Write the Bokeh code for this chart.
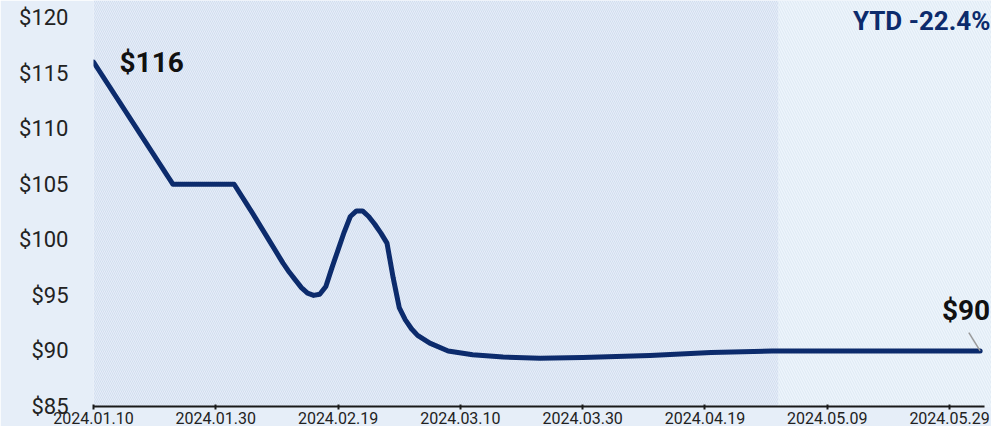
import pandas as pd
from bokeh.plotting import figure
from bokeh.models import (FixedTicker, DatetimeTickFormatter, PrintfTickFormatter,
                          Range1d, Label, BoxAnnotation, ColumnDataSource)
from bokeh.embed import file_html
from bokeh.resources import INLINE

# ---- data ----
dates = ["2024-01-10", "2024-01-23", "2024-02-02", "2024-02-05", "2024-02-08",
         "2024-02-10", "2024-02-11", "2024-02-12", "2024-02-13", "2024-02-14",
         "2024-02-15", "2024-02-16", "2024-02-17", "2024-02-18", "2024-02-19",
         "2024-02-20", "2024-02-21", "2024-02-22", "2024-02-23", "2024-02-24",
         "2024-02-25", "2024-02-26", "2024-02-27", "2024-02-28", "2024-02-29",
         "2024-03-01", "2024-03-02", "2024-03-03", "2024-03-05", "2024-03-08",
         "2024-03-12", "2024-03-17", "2024-03-23", "2024-03-30", "2024-04-10",
         "2024-04-20", "2024-04-30", "2024-05-10", "2024-05-20", "2024-06-03"]
prices = [116.0, 105.0, 105.0, 102.4, 99.7,
          97.9, 97.1, 96.4, 95.7, 95.2,
          95.0, 95.1, 95.8, 97.5, 99.1,
          100.7, 102.1, 102.6, 102.6, 102.1,
          101.4, 100.6, 99.7, 96.6, 93.9,
          92.8, 92.0, 91.4, 90.7, 90.0,
          89.65, 89.45, 89.35, 89.4, 89.6,
          89.85, 90.0, 90.0, 90.0, 90.0]
x_tick_dates = ["2024-01-10", "2024-01-30", "2024-02-19", "2024-03-10",
                "2024-03-30", "2024-04-19", "2024-05-09", "2024-05-29"]
y_ticks = [85, 90, 95, 100, 105, 110, 115, 120]

dt = pd.to_datetime(dates)
def ms(t):
    return pd.Timestamp(t).value / 1e6

DAY = 86400000
x_start = ms("2024-01-10")
axis_end = ms("2024-06-03 17:00")
x_end = axis_end + 1.15 * DAY          # frame runs to the canvas edge
y_end = y_ticks[-1] + 1.54             # frame runs to the canvas top

BG = "#e6eef8"
NAVY = "#0c2b6c"

p = figure(width=991, height=426, x_axis_type="datetime",
           x_range=Range1d(x_start, x_end), y_range=Range1d(y_ticks[0], y_end),
           output_backend="svg", toolbar_location=None,
           min_border_left=93, min_border_right=0, min_border_top=0, min_border_bottom=0)

p.background_fill_color = BG
p.border_fill_color = BG
p.outline_line_color = None
p.grid.visible = False

# background texture
p.add_layout(BoxAnnotation(right=ms("2024-05-01"), fill_alpha=0, line_alpha=0,
                           hatch_pattern="\\", hatch_color="#d0dbee", hatch_alpha=0.9,
                           hatch_scale=4, hatch_weight=1, level="underlay"))
p.add_layout(BoxAnnotation(left=ms("2024-05-01"), fill_color="#eff6fc",
                           fill_alpha=0.85, line_alpha=0, level="underlay",
                           hatch_pattern="\\", hatch_color="#d9e6f3", hatch_alpha=0.8,
                           hatch_scale=5, hatch_weight=1))

src = ColumnDataSource(dict(x=dt, y=prices))
p.line("x", "y", source=src, line_color=NAVY, line_width=5,
       line_join="round", line_cap="round")

# leader line from the end label to the last point
last_x = ms(dates[-1])
p.segment(x0=[last_x - 1.85 * DAY], y0=[prices[-1] + 1.65],
          x1=[last_x], y1=[prices[-1]], line_color="#9a9a9a", line_width=1.5)

# axes
p.xaxis.ticker = FixedTicker(ticks=[ms(d) for d in x_tick_dates])
fmt = "%Y.%m.%d"
p.xaxis.formatter = DatetimeTickFormatter(days=fmt, months=fmt, years=fmt,
                                          hours=fmt, minutes=fmt)
p.xaxis.bounds = (x_start, axis_end)
p.xaxis.axis_line_color = "#1a1a1a"
p.xaxis.axis_line_width = 2
p.xaxis.major_tick_line_color = "#1a1a1a"
p.xaxis.major_tick_line_width = 2
p.xaxis.major_tick_in = 2
p.xaxis.major_tick_out = 3
p.xaxis.minor_tick_line_color = None
p.xaxis.major_label_standoff = 2
p.xaxis.major_label_text_font = "Roboto"
p.xaxis.major_label_text_font_size = "16px"
p.xaxis.major_label_text_color = "#222222"

p.yaxis.ticker = FixedTicker(ticks=y_ticks)
p.yaxis.formatter = PrintfTickFormatter(format="$%d")
p.yaxis.axis_line_color = None
p.yaxis.major_tick_line_color = None
p.yaxis.minor_tick_line_color = None
p.yaxis.major_tick_in = 0
p.yaxis.major_tick_out = 0
p.yaxis.major_label_standoff = 25
p.yaxis.major_label_text_font = "Roboto"
p.yaxis.major_label_text_font_size = "22px"
p.yaxis.major_label_text_color = "#222222"

# labels
p.add_layout(Label(x=ms(dates[0]), y=prices[0], text=f"${prices[0]:.0f}",
                   x_offset=26, y_offset=0, text_baseline="middle",
                   text_font="Roboto", text_font_style="bold",
                   text_font_size="28px", text_color="#111111"))
p.add_layout(Label(x=last_x, y=prices[-1], text=f"${prices[-1]:.0f}",
                   x_offset=10, y_offset=40, text_align="right", text_baseline="middle",
                   text_font="Roboto", text_font_style="bold",
                   text_font_size="28px", text_color="#111111"))
ytd = (prices[-1] - prices[0]) / prices[0] * 100
p.add_layout(Label(x=axis_end, y=y_ticks[-1], text=f"YTD -{abs(ytd):.1f}%",
                   x_offset=6, y_offset=-3, text_align="right", text_baseline="middle",
                   text_font="Roboto", text_font_style="bold",
                   text_font_size="26px", text_color=NAVY))

open("out.html", "w").write(file_html(p, INLINE))
